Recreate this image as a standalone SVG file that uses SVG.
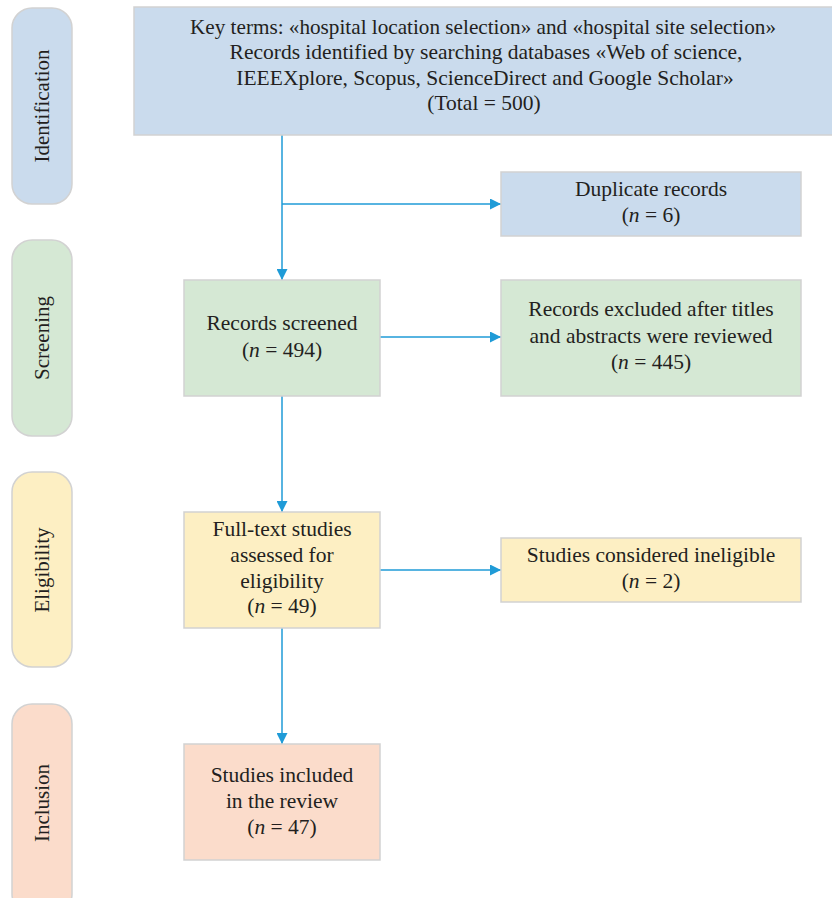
<svg xmlns="http://www.w3.org/2000/svg" width="832" height="898" viewBox="0 0 832 898">
<style>
text{font-family:'Liberation Serif','DejaVu Serif',serif;font-size:21.5px;fill:#231f20;text-anchor:middle}
.box{stroke:#d2d2d2;stroke-width:1.5}
.blue{fill:#cadbed}.green{fill:#d5e8d4}.yellow{fill:#fdefc3}.pink{fill:#fbdccb}
.conn{stroke:#1f9bd7;stroke-width:1.5;fill:none}
.side{font-size:21px}
</style>
<defs>
<marker id="ah" viewBox="0 0 10 10" refX="10" refY="5" markerWidth="11" markerHeight="11" markerUnits="userSpaceOnUse" orient="auto">
<path d="M0,0 L10,5 L0,10 z" fill="#1f9bd7"/>
</marker>
</defs>
<g id="stage-identification"><rect class="box blue" x="12" y="8" width="60" height="196" rx="20"/><text class="side" transform="translate(49,106) rotate(-90)">Identification</text></g>
<g id="stage-screening"><rect class="box green" x="12" y="240" width="60" height="196" rx="20"/><text class="side" transform="translate(49,338) rotate(-90)">Screening</text></g>
<g id="stage-eligibility"><rect class="box yellow" x="12" y="472" width="60" height="195" rx="20"/><text class="side" transform="translate(49,570) rotate(-90)">Eligibility</text></g>
<g id="stage-inclusion"><rect class="box pink" x="12" y="704" width="60" height="210" rx="20"/><text class="side" transform="translate(49,803) rotate(-90)">Inclusion</text></g>
<g id="connectors">
<path class="conn" d="M282,135 V280" marker-end="url(#ah)"/>
<path class="conn" d="M282,204 H501" marker-end="url(#ah)"/>
<path class="conn" d="M380,337 H501" marker-end="url(#ah)"/>
<path class="conn" d="M282,396 V512" marker-end="url(#ah)"/>
<path class="conn" d="M380,570 H501" marker-end="url(#ah)"/>
<path class="conn" d="M282,628 V744" marker-end="url(#ah)"/>
</g>
<g id="records-identified"><rect class="box blue" x="134" y="7" width="705" height="128"/>
<text x="483" y="34" textLength="586" lengthAdjust="spacingAndGlyphs">Key terms: «hospital location selection» and «hospital site selection»</text>
<text x="486" y="59">Records identified by searching databases «Web of science,</text>
<text x="485" y="85">IEEEXplore, Scopus, ScienceDirect and Google Scholar»</text>
<text x="484" y="110">(Total = 500)</text></g>
<g id="duplicates"><rect class="box blue" x="501" y="172" width="300" height="64"/>
<text x="651" y="196">Duplicate records</text>
<text x="651" y="222">(<tspan font-style="italic">n</tspan> = 6)</text></g>
<g id="screened"><rect class="box green" x="184" y="280" width="196" height="116"/>
<text x="282" y="330">Records screened</text>
<text x="282" y="357">(<tspan font-style="italic">n</tspan> = 494)</text></g>
<g id="excluded"><rect class="box green" x="501" y="280" width="300" height="116"/>
<text x="651" y="316">Records excluded after titles</text>
<text x="651" y="343">and abstracts were reviewed</text>
<text x="651" y="369">(<tspan font-style="italic">n</tspan> = 445)</text></g>
<g id="fulltext"><rect class="box yellow" x="184" y="512" width="196" height="116"/>
<text x="282" y="536">Full-text studies</text>
<text x="282" y="562">assessed for</text>
<text x="282" y="588">eligibility</text>
<text x="282" y="613">(<tspan font-style="italic">n</tspan> = 49)</text></g>
<g id="ineligible"><rect class="box yellow" x="501" y="538" width="300" height="64"/>
<text x="651" y="562">Studies considered ineligible</text>
<text x="651" y="588">(<tspan font-style="italic">n</tspan> = 2)</text></g>
<g id="included"><rect class="box pink" x="184" y="744" width="196" height="116"/>
<text x="282" y="782">Studies included</text>
<text x="282" y="808">in the review</text>
<text x="282" y="834">(<tspan font-style="italic">n</tspan> = 47)</text></g>
</svg>
